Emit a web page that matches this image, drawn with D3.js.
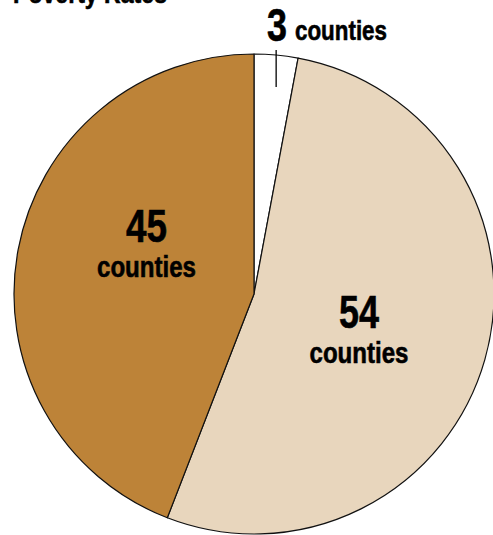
<!DOCTYPE html>
<html>
<head>
<meta charset="utf-8">
<script src="https://cdn.jsdelivr.net/npm/d3@7"></script>
<style>
  html, body { margin: 0; padding: 0; background: #fff; }
  svg { display: block; }
  text { font-family: "Liberation Sans", Arial, sans-serif; font-weight: bold; fill: #000; stroke: #000; stroke-width: 0.6px; }
</style>
</head>
<body>
<svg id="chart" width="493" height="535"></svg>
<script>
const title = "Poverty Rates";
const categories = ["small", "medium", "large"];
const counts = [3, 54, 45];
const unitLabel = "counties";
const colors = ["#ffffff", "#e8d6bd", "#bd8338"];

const W = 493, H = 535;
const cx = 254, cy = 294, R = 240;

const svg = d3.select("#chart");

svg.append("text")
  .attr("x", 13).attr("y", 3)
  .attr("font-size", 28)
  .attr("textLength", 154).attr("lengthAdjust", "spacingAndGlyphs")
  .text(title);

const pie = d3.pie().sort(null).value(d => d)(counts);
const arc = d3.arc().innerRadius(0).outerRadius(R);

const g = svg.append("g").attr("transform", `translate(${cx},${cy})`);

g.selectAll("path.slice")
  .data(pie)
  .join("path")
  .attr("class", "slice")
  .attr("d", arc)
  .attr("fill", (d, i) => colors[i])
  .attr("stroke", "#111")
  .attr("stroke-width", 1.2)
  .attr("stroke-linejoin", "round");

// leader for the small slice
const small = pie[0];
const midA = (small.startAngle + small.endAngle) / 2;
const lx = Math.sin(midA) * R;
const ly1 = -Math.cos(midA) * (R + 5);
const ly2 = -Math.cos(midA) * (R - 32);
g.append("line")
  .attr("x1", lx).attr("x2", lx)
  .attr("y1", ly1).attr("y2", ly2)
  .attr("stroke", "#000").attr("stroke-width", 1.3);

function cond(sel, w) {
  return sel.attr("textLength", w).attr("lengthAdjust", "spacingAndGlyphs");
}

// small slice label (outside)
cond(svg.append("text").attr("x", 267).attr("y", 41).attr("font-size", 47).text(counts[0]), 20);
cond(svg.append("text").attr("x", 295).attr("y", 40).attr("font-size", 27).text(unitLabel), 92);

// large slice labels (inside)
const inner = [
  { i: 1, x: 359, y: 328, w: 40 },
  { i: 2, x: 146.5, y: 242, w: 41 }
];
inner.forEach(p => {
  cond(svg.append("text")
    .attr("x", p.x - p.w / 2).attr("y", p.y)
    .attr("font-size", 47)
    .text(counts[p.i]), p.w);
  cond(svg.append("text")
    .attr("x", p.x - 49.5).attr("y", p.y + 35)
    .attr("font-size", 29)
    .text(unitLabel), 99);
});
</script>
</body>
</html>
